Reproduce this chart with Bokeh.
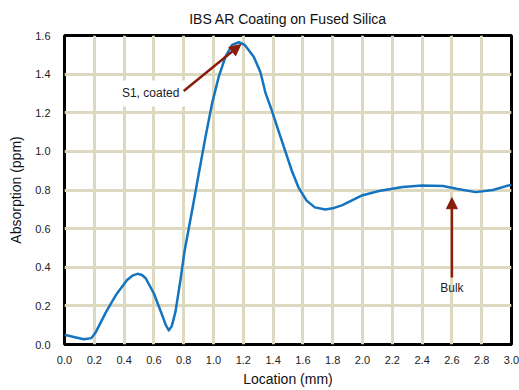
from bokeh.plotting import figure
from bokeh.models import Label, Arrow, NormalHead, FixedTicker, ColumnDataSource, PrintfTickFormatter
from bokeh.embed import file_html
from bokeh.resources import INLINE

# Data
location = [0.0, 0.07, 0.13, 0.18, 0.21, 0.28, 0.345, 0.42, 0.46, 0.49, 0.52, 0.545,
            0.60, 0.66, 0.68, 0.70, 0.72, 0.745, 0.78, 0.805, 0.865, 0.90, 0.945,
            0.99, 1.035, 1.08, 1.125, 1.17, 1.21, 1.27, 1.315, 1.35, 1.39, 1.435,
            1.48, 1.525, 1.57, 1.625, 1.68, 1.75, 1.80, 1.865, 1.99, 2.11, 2.27,
            2.40, 2.54, 2.63, 2.76, 2.875, 3.0]
absorption = [0.05, 0.038, 0.027, 0.033, 0.064, 0.17, 0.256, 0.334, 0.358, 0.366, 0.36,
              0.343, 0.264, 0.143, 0.10, 0.073, 0.095, 0.17, 0.343, 0.48, 0.73, 0.88,
              1.07, 1.247, 1.386, 1.49, 1.551, 1.565, 1.551, 1.49, 1.41, 1.30, 1.215,
              1.109, 1.005, 0.901, 0.814, 0.745, 0.71, 0.699, 0.705, 0.722, 0.77, 0.795,
              0.816, 0.823, 0.821, 0.806, 0.789, 0.80, 0.828]
x_ticks = [0.0, 0.2, 0.4, 0.6, 0.8, 1.0, 1.2, 1.4, 1.6, 1.8, 2.0, 2.2, 2.4, 2.6, 2.8, 3.0]
y_ticks = [0.0, 0.2, 0.4, 0.6, 0.8, 1.0, 1.2, 1.4, 1.6]
coated_label = {"text": "S1, coated", "x": 0.578, "y": 1.30,
                "arrow_from": (0.80, 1.313), "arrow_to": (1.183, 1.553)}
bulk_label = {"text": "Bulk", "x": 2.6, "y": 0.292,
              "arrow_from": (2.6, 0.347), "arrow_to": (2.6, 0.76)}

FONT = "Liberation Sans"
GRID = "#ddd8c0"
ARROW = "#8a1e0c"

p = figure(width=519, height=390, output_backend="svg", toolbar_location=None,
           x_range=(0, 3.0), y_range=(0, 1.6),
           min_border_left=64, min_border_right=8, min_border_top=35, min_border_bottom=46)

p.title.text = "IBS AR Coating on Fused Silica"
p.title.align = "center"
p.title.vertical_align = "top"
p.title.text_font = FONT
p.title.text_font_size = "14px"
p.title.text_font_style = "normal"
p.title.text_color = "#111111"
p.title.standoff = 14

p.outline_line_color = "black"
p.outline_line_width = 3

for ax in (p.xaxis, p.yaxis):
    ax.axis_line_color = None
    ax.major_tick_line_color = None
    ax.minor_tick_line_color = None
    ax.major_label_text_font = FONT
    ax.major_label_text_font_size = "11px"
    ax.major_label_text_color = "#222222"
    ax.axis_label_text_font = FONT
    ax.axis_label_text_font_size = "14px"
    ax.axis_label_text_font_style = "normal"
    ax.axis_label_text_color = "#111111"
    ax.formatter = PrintfTickFormatter(format="%.1f")

p.xaxis.ticker = FixedTicker(ticks=x_ticks)
p.yaxis.ticker = FixedTicker(ticks=y_ticks)
p.xaxis.axis_label = "Location (mm)"
p.yaxis.axis_label = "Absorption (ppm)"
p.xaxis.major_label_standoff = 5
p.yaxis.major_label_standoff = 8
p.xaxis.axis_label_standoff = 4
p.yaxis.axis_label_standoff = 8

p.xgrid.ticker = FixedTicker(ticks=x_ticks)
p.ygrid.ticker = FixedTicker(ticks=y_ticks)
for g in (p.xgrid, p.ygrid):
    g.grid_line_color = GRID
    g.grid_line_width = 3
    g.grid_line_alpha = 1.0

src = ColumnDataSource(dict(x=location, y=absorption))
p.line("x", "y", source=src, line_color="#1474bf", line_width=2.5, line_join="round")

p.add_layout(Label(x=coated_label["x"], y=coated_label["y"], text=coated_label["text"],
                   text_font=FONT, text_font_size="12px", text_color="#222222",
                   text_align="center", text_baseline="middle",
                   background_fill_color="white", border_line_color=None,
                   padding=6))
p.add_layout(Label(x=bulk_label["x"], y=bulk_label["y"], text=bulk_label["text"],
                   text_font=FONT, text_font_size="12px", text_color="#222222",
                   text_align="center", text_baseline="middle"))

for lab in (coated_label, bulk_label):
    (x0, y0), (x1, y1) = lab["arrow_from"], lab["arrow_to"]
    p.add_layout(Arrow(x_start=x0, y_start=y0, x_end=x1, y_end=y1,
                       line_color=ARROW, line_width=2.5,
                       end=NormalHead(size=11, fill_color=ARROW, line_color=ARROW)))

open("out.html", "w").write(file_html(p, INLINE))
